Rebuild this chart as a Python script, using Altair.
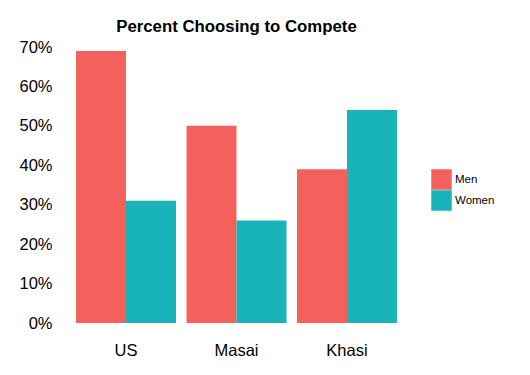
import altair as alt
import pandas as pd

societies = ["US", "Masai", "Khasi"]
men = [0.69, 0.50, 0.39]
women = [0.31, 0.26, 0.54]
genders = ["Men", "Women"]

rows = []
for s, m, w in zip(societies, men, women):
    rows.append({"society": s, "gender": "Men", "pct": m})
    rows.append({"society": s, "gender": "Women", "pct": w})
df = pd.DataFrame(rows)

font = "Liberation Sans"

chart = alt.Chart(df).mark_bar().encode(
    x=alt.X("society:N", sort=societies, title=None,
            scale=alt.Scale(paddingInner=0.095, paddingOuter=0.145),
            axis=alt.Axis(labelAngle=0, labelFontSize=16.5, labelPadding=19, ticks=False,
                          domain=False, labelColor="black", labelFont=font)),
    xOffset=alt.XOffset("gender:N", sort=genders, scale=alt.Scale(paddingInner=0, paddingOuter=0)),
    y=alt.Y("pct:Q", title=None, scale=alt.Scale(domain=[0, 0.7], nice=False, zero=True),
            axis=alt.Axis(format=".0%", values=[0, 0.1, 0.2, 0.3, 0.4, 0.5, 0.6, 0.7],
                          labelFontSize=16.5, labelPadding=8, ticks=False, domain=False,
                          grid=False, labelColor="black", labelFont=font)),
    color=alt.Color("gender:N", sort=genders,
                    scale=alt.Scale(domain=genders, range=["#F4605C", "#18B4B9"]),
                    legend=alt.Legend(title=None, orient="none", legendX=371, legendY=122,
                                      symbolType="square", symbolSize=420, symbolStrokeWidth=0,
                                      labelFontSize=11.5, labelFont=font, labelColor="black",
                                      rowPadding=0, labelOffset=3, symbolOpacity=1)),
).properties(
    width=353,
    height=276,
    title=alt.TitleParams("Percent Choosing to Compete", fontSize=16.8, fontWeight="bold",
                          font=font, color="black", anchor="middle", offset=3),
    autosize=alt.AutoSizeParams(type="none"),
    padding={"left": 52, "top": 39, "right": 105, "bottom": 44},
).configure_view(stroke=None)

chart.save("out.html", embed_options={"renderer": "svg", "actions": False})
